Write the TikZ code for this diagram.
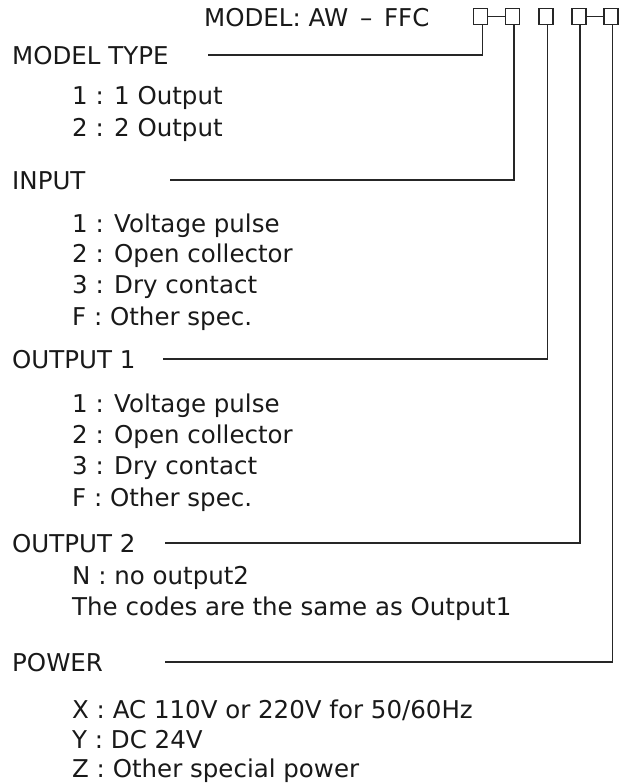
\documentclass[tikz,border=0pt]{standalone}
\usepackage{fontspec}
\setmainfont{DejaVu Sans}
\begin{document}
\begin{tikzpicture}[x=1pt,y=-1pt,
  txt/.style={anchor=base west,inner sep=0pt,font=\fontsize{24.5}{28}\selectfont,text=black!90},
  codebox/.style={draw=black!85,line width=1.3pt,minimum width=14pt,minimum height=16.5pt,inner sep=0pt},
  lead/.style={draw=black!85,line width=1.5pt}]
\useasboundingbox (0,0) rectangle (627,784);
\fill[white] (0,0) rectangle (627,784);
% header
\node[txt] (hdr) at (204,27) {MODEL: AW\hspace{4pt} –\hspace{4pt} FFC};
\node[codebox] (b1) at (480.5,16.5) {};
\node[codebox] (b2) at (512.5,16.5) {};
\node[codebox] (b3) at (546,16.5) {};
\node[codebox] (b4) at (579,16.5) {};
\node[codebox] (b5) at (611,16.5) {};
\draw[lead] (b1.east) -- (b2.west);
\draw[lead] (b4.east) -- (b5.west);
% sections
\node[txt] (mt) at (12,64) {MODEL TYPE};
\node[txt] (mt1) at (72,104) {1 : 1 Output};
\node[txt] (mt2) at (72,136) {2 : 2 Output};
\node[txt] (in) at (12,189) {INPUT};
\node[txt] (in1) at (72,232) {1 : Voltage pulse};
\node[txt] (in2) at (72,262) {2 : Open collector};
\node[txt] (in3) at (72,293) {3 : Dry contact};
\node[txt] (in4) at (72,325) {F : Other spec.};
\node[txt] (o1) at (12,368) {OUTPUT 1};
\node[txt] (o11) at (72,412) {1 : Voltage pulse};
\node[txt] (o12) at (72,443) {2 : Open collector};
\node[txt] (o13) at (72,474) {3 : Dry contact};
\node[txt] (o14) at (72,506) {F : Other spec.};
\node[txt] (o2) at (12,552) {OUTPUT 2};
\node[txt] (o21) at (72,584) {N : no output2};
\node[txt] (o22) at (72,615) {The codes are the same as Output1};
\node[txt] (pw) at (12,671) {POWER};
\node[txt] (pw1) at (72,718) {X : AC 110V or 220V for 50/60Hz};
\node[txt] (pw2) at (72,748) {Y : DC 24V};
\node[txt] (pw3) at (72,777) {Z : Other special power};
% leader line starts
\coordinate (s1) at (208,55);
\coordinate (s2) at (170,180);
\coordinate (s3) at (163,359);
\coordinate (s4) at (165,543);
\coordinate (s5) at (165,662);
\draw[lead] ([xshift=2pt]b1.south) |- (s1);
\draw[lead] ([xshift=1.5pt]b2.south) |- (s2);
\draw[lead] ([xshift=1.5pt]b3.south) |- (s3);
\draw[lead] ([xshift=1pt]b4.south) |- (s4);
\draw[lead] ([xshift=1.5pt]b5.south) |- (s5);
\end{tikzpicture}
\end{document}
